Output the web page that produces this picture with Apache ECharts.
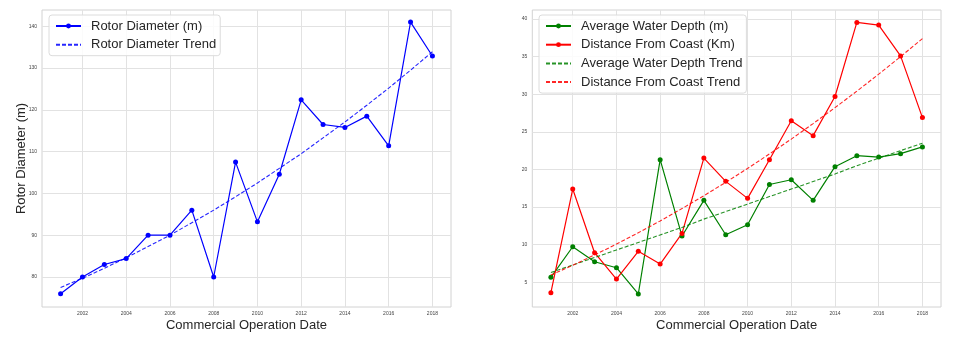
<!DOCTYPE html>
<html><head><meta charset="utf-8">
<script src="https://cdn.jsdelivr.net/npm/echarts@6/dist/echarts.min.js"></script>
<style>html,body{margin:0;padding:0;background:#fff}#c{width:972px;height:347px}</style>
</head><body><div id="c"></div>
<script>
const years = [2001,2002,2003,2004,2005,2006,2007,2008,2009,2010,2011,2012,2013,2014,2015,2016,2017,2018];
const rotorDiameter = [76.0,80.0,83.0,84.4,90.0,90.0,96.0,80.0,107.5,93.2,104.6,122.4,116.5,115.8,118.5,111.4,141.0,132.9];
const rotorTrend = [77.5,79.7,82.1,84.6,87.3,90.0,93.0,96.0,99.2,102.5,106.0,109.5,113.3,117.1,121.1,125.2,129.5,133.9];
const waterDepth = [5.66,9.73,7.74,6.94,3.45,21.3,11.15,15.9,11.33,12.66,18.0,18.64,15.9,20.37,21.83,21.65,22.1,23.0];
const coastDistance = [3.62,17.4,8.94,5.44,9.12,7.43,11.5,21.52,18.42,16.16,21.3,26.48,24.5,29.7,39.55,39.2,35.1,26.9];
const waterDepthTrend = [6.3,7.3,8.3,9.3,10.3,11.3,12.3,13.4,14.4,15.4,16.4,17.4,18.4,19.4,20.5,21.5,22.5,23.5];
const coastDistanceTrend = [5.97,7.27,8.64,10.08,11.59,13.16,14.8,16.51,18.29,20.14,22.06,24.04,26.1,28.22,30.41,32.67,35.0,37.4];
const xTicks = [2002,2004,2006,2008,2010,2012,2014,2016,2018];
const leftYTicks = [80,90,100,110,120,130,140];
const rightYTicks = [5,10,15,20,25,30,35,40];

const FONT = '"Liberation Sans", Arial, sans-serif';
const TXT = '#262626';
const pairs = arr => years.map((y, i) => [y, arr[i]]);

function xAxis(gridIndex) {
  return {
    type: 'value', gridIndex, min: 2000.15, max: 2018.85,
    name: 'Commercial Operation Date', nameLocation: 'middle', nameGap: 11.5, nameMoveOverlap: false,
    nameTextStyle: {fontSize: 13, color: TXT, fontFamily: FONT},
    axisLine: {show: false}, axisTick: {show: false, customValues: xTicks},
    axisLabel: {customValues: xTicks, formatter: v => String(v), fontSize: 5, color: '#444', margin: 4, fontFamily: FONT},
    splitLine: {show: true, lineStyle: {color: '#e2e2e2', width: 1}}
  };
}
function yAxis(gridIndex, min, max, ticks, name) {
  return {
    type: 'value', gridIndex, min, max,
    name: name || '', nameLocation: 'middle', nameGap: 14, nameMoveOverlap: false,
    nameTextStyle: {fontSize: 13, color: TXT, fontFamily: FONT},
    axisLine: {show: false}, axisTick: {show: false, customValues: ticks},
    axisLabel: {customValues: ticks, formatter: v => String(v), fontSize: 5, color: '#444', margin: 5, fontFamily: FONT},
    splitLine: {show: true, lineStyle: {color: '#e2e2e2', width: 1}}
  };
}
function dataSeries(name, arr, color, xi) {
  return {
    name, type: 'line', xAxisIndex: xi, yAxisIndex: xi, data: pairs(arr),
    symbol: 'circle', symbolSize: 5, color,
    itemStyle: {color}, lineStyle: {color, width: 1.2}, z: 3
  };
}
function trendSeries(name, arr, color, xi) {
  return {
    name, type: 'line', xAxisIndex: xi, yAxisIndex: xi, data: pairs(arr),
    symbol: 'none', color, itemStyle: {color},
    lineStyle: {color, width: 1.1, type: [4, 2], opacity: 0.85}, z: 4
  };
}
function legend(left, top, items) {
  return {
    left, top, orient: 'vertical', selectedMode: false,
    data: items.map(([n, isTrend]) => isTrend ? {name: n, itemStyle: {opacity: 0}} : {name: n}),
    itemWidth: 25, itemHeight: 6, itemGap: 4.7,
    padding: [4, 4, 4, 6],
    backgroundColor: 'rgba(255,255,255,0.85)', borderColor: '#dcdcdc', borderWidth: 1, borderRadius: 3,
    textStyle: {fontSize: 13, color: TXT, fontFamily: FONT, lineHeight: 14, padding: [0, 0, 0, 5]}
  };
}

const chart = echarts.init(document.getElementById('c'), null, {renderer: 'canvas'});
chart.setOption({
  animation: false,
  backgroundColor: '#fff',
  grid: [
    {left: 42, top: 10, width: 409, height: 297, show: true, borderColor: '#d2d2d2', borderWidth: 1, backgroundColor: 'transparent'},
    {left: 532.3, top: 10, width: 408.7, height: 297, show: true, borderColor: '#d2d2d2', borderWidth: 1, backgroundColor: 'transparent'}
  ],
  xAxis: [xAxis(0), xAxis(1)],
  yAxis: [yAxis(0, 72.82, 143.9, leftYTicks, 'Rotor Diameter (m)'), yAxis(1, 1.72, 41.2, rightYTicks)],
  legend: [
    legend(49, 15, [['Rotor Diameter (m)', false], ['Rotor Diameter Trend', true]]),
    legend(539, 15, [['Average Water Depth (m)', false], ['Distance From Coast (Km)', false], ['Average Water Depth Trend', true], ['Distance From Coast Trend', true]])
  ],
  series: [
    dataSeries('Rotor Diameter (m)', rotorDiameter, '#0000ff', 0),
    trendSeries('Rotor Diameter Trend', rotorTrend, '#0000ff', 0),
    dataSeries('Average Water Depth (m)', waterDepth, '#008000', 1),
    dataSeries('Distance From Coast (Km)', coastDistance, '#ff0000', 1),
    trendSeries('Average Water Depth Trend', waterDepthTrend, '#008000', 1),
    trendSeries('Distance From Coast Trend', coastDistanceTrend, '#ff0000', 1)
  ]
});
</script></body></html>
